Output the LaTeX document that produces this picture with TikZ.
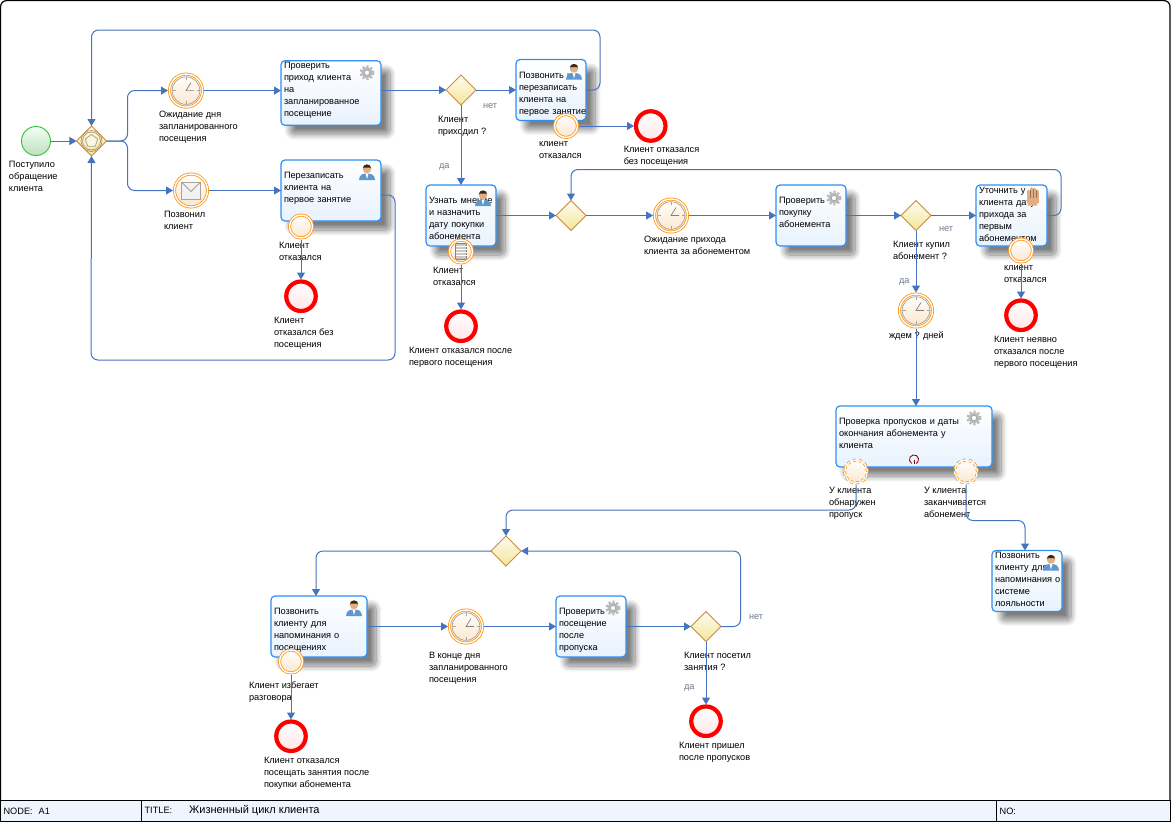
\documentclass[tikz,border=0pt]{standalone}
\usepackage{fontspec}
\setmainfont{Liberation Sans}
\usepackage{tikz}
\usetikzlibrary{shapes.geometric,arrows.meta,positioning,calc,shadows.blur}
\definecolor{flowblue}{HTML}{4473BF}
\definecolor{taskblue}{HTML}{2E8FF2}
\definecolor{taskfill}{HTML}{E8F2FE}
\definecolor{barfill}{HTML}{EEF5FE}
\definecolor{evorange}{HTML}{FF9410}
\definecolor{evfill}{HTML}{FBE6CC}
\definecolor{gwedge}{HTML}{C98B3C}
\definecolor{gwfill}{HTML}{F3E69C}
\definecolor{iconline}{HTML}{A8A298}
\definecolor{branchgray}{HTML}{6C7A8C}
\definecolor{skin}{HTML}{E2AE82}
\definecolor{shirt}{HTML}{5F97CE}
\tikzset{
  gearicon/.pic={
    \fill[gray!55] (0,0) circle (5.6);
    \draw[gray!55, line width=2pt, dash pattern=on 2.2pt off 2pt] (0,0) circle (6.4);
    \fill[white] (0,0) circle (2.6);
    \draw[gray!80, line width=.5pt] (0,0) circle (2.6);
  },
  personicon/.pic={
    \fill[shirt] (-8,8) .. controls (-8,2) and (-3,1.5) .. (0,1.5) .. controls (3,1.5) and (8,2) .. (8,8) -- cycle;
    \fill[white] (-1.5,1.5) -- (1.5,1.5) -- (0,7) -- cycle;
    \fill[skin] (0,-3) circle (4.2);
    \fill[black!70!brown] (-4.2,-3.5) arc (180:360:4.2) -- (3,-4.5) -- (-3,-4.5) -- cycle;
  },
  handicon/.pic={
    \fill[skin] (-5.8,-1) rectangle (5.8,6) (-5,6) rectangle (4,8.5);
    \draw[skin, line width=2.6pt, line cap=round] (-4.5,0) -- (-4.5,-6);
    \draw[skin, line width=2.6pt, line cap=round] (-1.5,0) -- (-1.5,-8.5);
    \draw[skin, line width=2.6pt, line cap=round] (1.5,0) -- (1.5,-8);
    \draw[skin, line width=2.6pt, line cap=round] (4.5,0) -- (4.5,-6);
    \draw[skin!65!black, line width=.5pt] (-3,1) -- (-3,-7) (0,1) -- (0,-8.5) (3,1) -- (3,-7);
  },
  clockicon/.pic={
    \draw[iconline, line width=.7pt] (0,0) circle (13.8);
    \draw[iconline, line width=.9pt] (0,-13.5) -- (0,-10.5) (0,13.5) -- (0,10.5) (-13.5,0) -- (-10.5,0) (13.5,0) -- (10.5,0);
    \draw[gray, line width=.7pt] (8,0) -- (0,0) -- (5,-8);
  },
  mailicon/.pic={
    \draw[iconline, fill=white!90!gray, line width=.9pt] (-9.5,-8.5) rectangle (9.5,8.5);
    \draw[iconline, line width=.9pt] (-9.5,-8.5) -- (0,1) -- (9.5,-8.5);
  },
  listicon/.pic={
    \draw[gray, fill=iconline!60, line width=.6pt, rounded corners=1pt] (-5.5,-8) rectangle (5.5,8);
    \draw[white, line width=.7pt] (-5.5,-5) -- (5.5,-5) (-5.5,-2) -- (5.5,-2) (-5.5,1) -- (5.5,1) (-5.5,4) -- (5.5,4);
  },
  eventgwicon/.pic={
    \draw[gwedge!70!gray, line width=.6pt] (0,0) circle (10.5) (0,0) circle (9);
    \draw[iconline, fill=white!70!gwfill, line width=.8pt] (-90:6.5) -- (-18:6.5) -- (54:6.5) -- (126:6.5) -- (198:6.5) -- cycle;
  },
  loopicon/.pic={
    \draw[red!50!black, line width=.8pt] (120:4.6) arc (120:420:4.6);
    \draw[red!50!black, line width=.8pt] (0,.5) -- (0,4.6);
  },
  flow/.style={->, >={Triangle[length=7pt,width=8pt]}, draw=flowblue, fill=none, line width=1pt, rounded corners=7pt},
  task/.style={rectangle, draw=taskblue, line width=1.2pt, rounded corners=4pt, top color=white, bottom color=taskfill,
    blur shadow={shadow xshift=9pt, shadow yshift=-9pt, shadow blur radius=6pt, shadow blur steps=12, shadow opacity=50},
    align=left, inner xsep=3pt, inner ysep=0pt, outer sep=0pt, text width=64pt, text height=18.5pt, text depth=42.5pt,
    font=\fontsize{9.2}{12}\selectfont},
  gateway/.style={diamond, aspect=1, draw=gwedge, line width=.8pt, inner sep=0pt, outer sep=0pt, minimum width=30pt, minimum height=30pt,
    top color=gwfill!15, bottom color=gwfill},
  startev/.style={circle, draw=green!70!black!80, line width=.9pt, inner sep=0pt, outer sep=0pt, minimum size=29pt, top color=white!95!green, bottom color=green!50!black!25},
  endev/.style={circle, draw=red, line width=4.2pt, inner sep=0pt, outer sep=2pt, minimum size=29.5pt, top color=white, bottom color=red!10},
  timer/.style={circle, draw=evorange, line width=.8pt, double=white, double distance=1.4pt, inner sep=0pt, outer sep=1.5pt, minimum size=33pt, top color=white, bottom color=evfill},
  boundary/.style={circle, draw=evorange, line width=.8pt, double=white, double distance=1.4pt, inner sep=0pt, outer sep=1.5pt, minimum size=23pt, top color=white, bottom color=evfill},
  nonstop/.style={boundary, dashed},
  lbl/.style={inner sep=0pt, outer sep=0pt, align=left, execute at begin node={\rule{0pt}{7pt}}, font=\fontsize{9.2}{12}\selectfont},
  branch/.style={lbl, text=branchgray},
  cell/.style={rectangle, draw, fill=barfill, line width=1pt, inner xsep=3pt, inner ysep=0pt, outer sep=0pt, minimum height=20.5pt, anchor=west, align=left, font=\fontsize{9.2}{12}\selectfont}
}
\begin{document}
\begin{tikzpicture}[x=1pt, y=-1pt]
    \useasboundingbox (0,0) rectangle (1171,823);
    \draw[line width=1.2pt, rounded corners=6pt] (.6,801) -- (.6,.6) -- (1170,.6) -- (1170,801);

    \node[startev] (start) at (36,141) {};
    \node[gateway, right=26pt of start] (gw1) {};
    \pic at (gw1) {eventgwicon};
    \node[timer] (timer1) at (186,90.6) {};
    \pic at (timer1) {clockicon};
    \node[timer] (call) at (191,190.5) {};
    \pic at (call) {mailicon};
    \node[task, text width=94pt, minimum width=100pt, minimum height=64.6pt, text height=8pt, text depth=56.6pt] (check1) at (331,93) {Проверить\\приход клиента\\на\\запланированное\\посещение};
    \pic at ([shift={(-14,12)}]check1.north east) {gearicon};
    \node[task, text width=94pt, minimum width=100pt, minimum height=61pt] (rebook) at (331,190.5) {Перезаписать\\клиента на\\первое занятие};
    \pic at ([shift={(-14,12)}]rebook.north east) {personicon};
    \node[boundary] (refuse1) at ([shift={(-30,5.5)}]rebook.south) {};
    \node[endev, below=40pt of refuse1] (end1) {};

    \node[gateway] (gw2) at (461,90) {};
    \node[task, right=40pt of gw2] (phone) {Позвонить и\\перезаписать\\клиента на\\\mbox{первое занятие}};
    \pic at ([shift={(-12,12)}]phone.north east) {personicon};
    \node[boundary] (refuse2) at ([shift={(15,5.5)}]phone.south) {};
    \node[endev, right=55pt of refuse2] (end2) {};

    \node[task] (opinion) at (461,215.5) {Узнать мнение\\и назначить\\дату покупки\\абонемента};
    \pic at ([shift={(-13,13)}]opinion.north east) {personicon};
    \node[boundary] (refuse3) at ([shift={(0,5.5)}]opinion.south) {};
    \pic at (refuse3) {listicon};
    \node[endev, below=45pt of refuse3] (end3) {};
    \node[gateway, right=60pt of opinion] (gw3) {};
    \node[timer, right=67pt of gw3] (timer2) {};
    \pic at (timer2) {clockicon};
    \node[task, right=87pt of timer2] (check2) {Проверить\\покупку\\абонемента};
    \pic at ([shift={(-12,13)}]check2.north east) {gearicon};
    \node[gateway, right=55pt of check2] (gw4) {};
    \node[task, right=45pt of gw4, text width=65pt, minimum width=71pt, text height=8pt, text depth=53pt] (clarify) {Уточнить у\\клиента дату\\прихода за\\первым\\абонементом};
    \pic at ([shift={(-14,12)}]clarify.north east) {handicon};
    \node[boundary] (refuse4) at ([shift={(9.5,4.5)}]clarify.south) {};
    \node[endev, below=35pt of refuse4] (end4) {};
    \node[timer, below=62pt of gw4] (timer3) {};
    \pic at (timer3) {clockicon};

    \node[task, text width=150pt, minimum width=156pt] (audit) at (914,436.5) {Проверка пропусков и даты\\окончания абонемента у\\клиента};
    \pic at ([shift={(-18,12)}]audit.north east) {gearicon};
    \pic at ([yshift=7.5pt]audit.south) {loopicon};
    \node[nonstop] (missed) at ([shift={(-58,4.5)}]audit.south) {};
    \node[nonstop] (expiring) at ([shift={(52,4.5)}]audit.south) {};
    \node[task, text height=8pt, text depth=53pt] (remind) at (1027,581) {Позвонить\\клиенту для\\\mbox{напоминания о}\\системе\\лояльности};
    \pic at ([shift={(-11,12)}]remind.north east) {personicon};

    \node[gateway] (gw5) at (506,551) {};
    \node[task, text width=90pt, minimum width=96pt] (calling) at (319,626.5) {Позвонить\\клиенту для\\напоминания о\\посещениях};
    \pic at ([shift={(-13,12)}]calling.north east) {personicon};
    \node[boundary] (avoid) at ([shift={(-28,4.5)}]calling.south) {};
    \node[endev, below=45pt of avoid] (end5) {};
    \node[timer, right=81pt of calling] (timer4) {};
    \pic at (timer4) {clockicon};
    \node[task, right=72pt of timer4] (check3) {Проверить\\посещение\\после\\пропуска};
    \pic at ([shift={(-13,12)}]check3.north east) {gearicon};
    \node[gateway, right=65pt of check3] (gw6) {};
    \node[endev, below=63pt of gw6] (end6) {};

    % event and gateway captions
    \node[lbl, below right=20.5pt and -27pt of start.center] (startlbl) {Поступило\\обращение\\клиента};
    \node[lbl, below right=20.5pt and -27pt of timer1.center] (timer1lbl) {Ожидание дня\\запланированного\\посещения};
    \node[lbl, below right=21pt and -27pt of call.center] (calllbl) {Позвонил\\клиент};
    \node[lbl, below right=15.5pt and -22pt of refuse1.center] (refuse1lbl) {Клиент\\отказался};
    \node[lbl, below right=20.5pt and -27pt of end1.center] (end1lbl) {Клиент\\отказался без\\посещения};
    \node[lbl, below right=26.5pt and -23pt of gw2.center] (gw2lbl) {Клиент\\приходил ?};
    \node[branch, below right=11.5pt and 22pt of gw2.center] (gw2no) {нет};
    \node[branch, below right=71.5pt and -22pt of gw2.center] (gw2yes) {да};
    \node[lbl, below right=15.5pt and -27pt of refuse2.center] (refuse2lbl) {клиент\\отказался};
    \node[lbl, below right=20.5pt and -27pt of end2.center] (end2lbl) {Клиент отказался\\без посещения};
    \node[lbl, below right=15.5pt and -28pt of refuse3.center] (refuse3lbl) {Клиент\\отказался};
    \node[lbl, below right=20.5pt and -52pt of end3.center] (end3lbl) {Клиент отказался после\\первого посещения};
    \node[lbl, below right=20.5pt and -27pt of timer2.center] (timer2lbl) {Ожидание прихода\\клиента за абонементом};
    \node[lbl, below right=25.5pt and -23pt of gw4.center] (gw4lbl) {Клиент купил\\абонемент ?};
    \node[branch, below right=8.5pt and 23pt of gw4.center] (gw4no) {нет};
    \node[branch, below right=60.5pt and -17pt of gw4.center] (gw4yes) {да};
    \node[lbl, below right=15.5pt and -17pt of refuse4.center] (refuse4lbl) {клиент\\отказался};
    \node[lbl, below right=20.5pt and -27pt of end4.center] (end4lbl) {Клиент неявно\\отказался после\\первого посещения};
    \node[lbl, below right=20.5pt and -27pt of timer3.center] (timer3lbl) {ждем ? дней};
    \node[lbl, below right=15.5pt and -27pt of missed.center] (missedlbl) {У клиента\\обнаружен\\пропуск};
    \node[lbl, below right=15.5pt and -42pt of expiring.center] (expiringlbl) {У клиента\\заканчивается\\абонемент};
    \node[lbl, below right=20.5pt and -42pt of avoid.center] (avoidlbl) {Клиент избегает\\разговора};
    \node[lbl, below right=20.5pt and -27pt of end5.center] (end5lbl) {Клиент отказался\\посещать занятия после\\покупки абонемента};
    \node[lbl, below right=25.5pt and -37pt of timer4.center] (timer4lbl) {В конце дня\\запланированного\\посещения};
    \node[lbl, below right=25.5pt and -22pt of gw6.center] (gw6lbl) {Клиент посетил\\занятия ?};
    \node[branch, below right=-14.5pt and 43pt of gw6.center] (gw6no) {нет};
    \node[branch, below right=55.5pt and -22pt of gw6.center] (gw6yes) {да};
    \node[lbl, below right=20.5pt and -27pt of end6.center] (end6lbl) {Клиент пришел\\после пропусков};

    % connectors
    \draw[flow] (start) -- (gw1);
    \draw[flow] (gw1.east) -- ++(21,0) |- (timer1.west);
    \draw[flow] (gw1.east) -- ++(21,0) |- (call.west);
    \draw[flow] (timer1) -- (timer1 -| check1.west);
    \draw[flow] (call) -- (call -| rebook.west);
    \draw[flow] (check1.east |- gw2) -- (gw2.west);
    \draw[flow] (gw2) -- (phone);
    \draw[flow] (phone.east) -- ++(14,0) -- ++(0,-60) -| (gw1.north);
    \draw[flow] ([yshift=-4.5pt]rebook.east) -- ++(14,0) |- (91,360) -- (gw1.south);
    \draw[flow] (refuse1) -- (end1);
    \draw[flow] (gw2) -- (opinion);
    \draw[flow] (refuse2) -- (end2);
    \draw[flow] (refuse3) -- (end3);
    \draw[flow] (opinion) -- (gw3);
    \draw[flow] (gw3) -- (timer2);
    \draw[flow] (timer2) -- (check2);
    \draw[flow] (check2) -- (gw4);
    \draw[flow] (gw4) -- (clarify);
    \draw[flow] (clarify.east) -- ++(14,0) -- ++(0,-46) -| (gw3.north);
    \draw[flow] (gw4) -- (timer3);
    \draw[flow] (timer3) -- (timer3 |- audit.north);
    \draw[flow] (refuse4) -- (end4);
    \draw[flow] (missed.south) -- (missed |- 0,510) -| (gw5.north);
    \draw[flow] (expiring.south) -- (expiring |- 0,520.5) -| ([xshift=-2pt]remind.north);
    \draw[flow] (gw5.west) -| ([xshift=-3pt]calling.north);
    \draw[flow] (calling) -- (timer4);
    \draw[flow] (timer4) -- (check3);
    \draw[flow] (check3) -- (gw6);
    \draw[flow] (gw6.east) -- ++(19.5,0) |- (gw5.east);
    \draw[flow] (gw6) -- (end6);
    \draw[flow] (avoid) -- (end5);

    % title bar
    \node[cell, text width=135pt, minimum width=141pt] (nodecell) at (.6,811) {NODE:\hspace{6pt}A1};
    \node[cell, right=0pt of nodecell, text width=849pt, minimum width=855pt] (titlecell) {TITLE:\hspace{17pt}{\fontsize{11}{12}\selectfont Жизненный цикл клиента}};
    \node[cell, right=0pt of titlecell, text width=168pt, minimum width=174pt] (nocell) {NO:};
  \end{tikzpicture}
\end{document}
